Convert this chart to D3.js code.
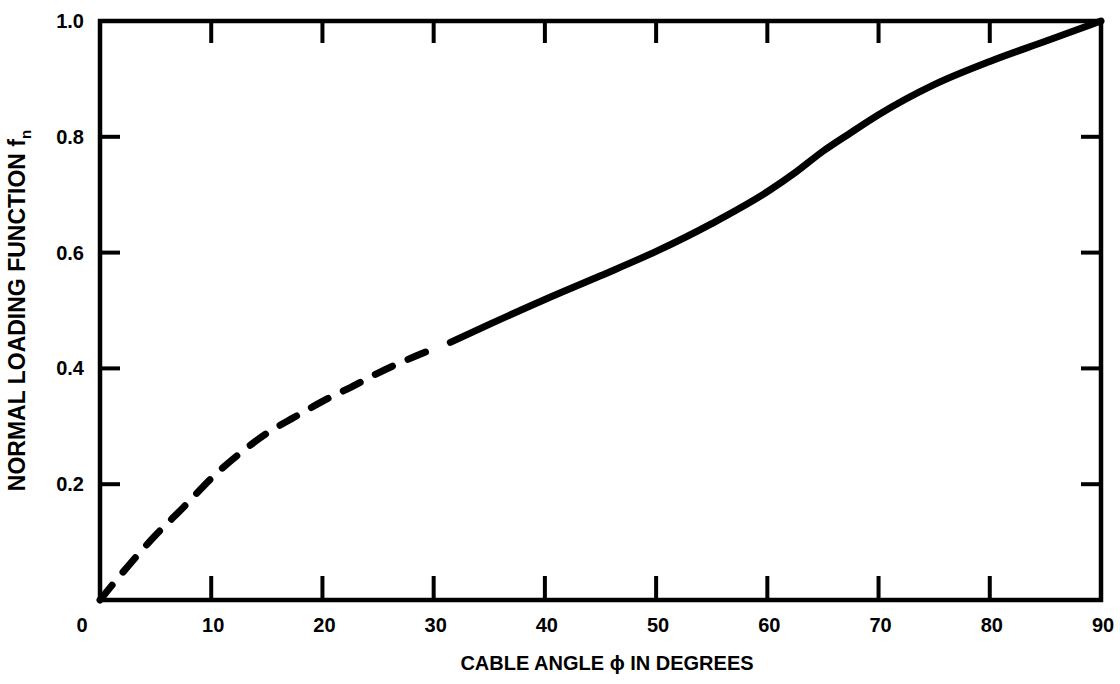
<!DOCTYPE html>
<html>
<head>
<meta charset="utf-8">
<script src="https://cdn.jsdelivr.net/npm/d3@7"></script>
<style>
  body { margin: 0; background: #fff; }
  text { font-family: "Liberation Sans", Arial, sans-serif; font-weight: bold; fill: #000; }
</style>
</head>
<body>
<div id="chart"></div>
<script>
// Cable angle (deg) vs normal loading function
const dashedAngles = [0, 2.5, 5, 7.5, 10, 12.5, 15, 17.5, 20, 22.5, 25, 27.5, 30];
const dashedValues = [0, 0.058, 0.112, 0.16, 0.21, 0.252, 0.288, 0.316, 0.343, 0.367, 0.392, 0.414, 0.434];
const solidAngles = [31.5, 35, 40, 45, 50, 55, 60, 62.5, 65, 67.5, 70, 75, 80, 85, 90];
const solidValues = [0.445, 0.476, 0.519, 0.56, 0.602, 0.65, 0.705, 0.738, 0.775, 0.807, 0.838, 0.89, 0.93, 0.965, 1.0];

const xTicks = [0, 10, 20, 30, 40, 50, 60, 70, 80, 90];
const yTicks = [0.2, 0.4, 0.6, 0.8, 1.0];

const W = 1120, H = 684;
const margin = { top: 21, right: 19, bottom: 84, left: 100 };
const width = W - margin.left - margin.right;
const height = H - margin.top - margin.bottom;

const svg = d3.select("#chart").append("svg")
    .attr("width", W)
    .attr("height", H);

const g = svg.append("g")
    .attr("transform", "translate(" + margin.left + "," + margin.top + ")");

const x = d3.scaleLinear().domain([0, 90]).range([0, width]);
const y = d3.scaleLinear().domain([0, 1]).range([height, 0]);

// inner ticks on all four sides
const tickLen = 22;
const innerX = xTicks.filter(d => d > 0 && d < 90);
const innerY = yTicks.filter(d => d < 1);

g.append("g").selectAll("line").data(innerX).enter().append("line")
    .attr("x1", d => x(d)).attr("x2", d => x(d))
    .attr("y1", height).attr("y2", height - tickLen - 2)
    .attr("stroke", "#000").attr("stroke-width", 4);
g.append("g").selectAll("line").data(innerX).enter().append("line")
    .attr("x1", d => x(d)).attr("x2", d => x(d))
    .attr("y1", 0).attr("y2", tickLen)
    .attr("stroke", "#000").attr("stroke-width", 4);
g.append("g").selectAll("line").data(innerY).enter().append("line")
    .attr("x1", 0).attr("x2", tickLen - 2)
    .attr("y1", d => y(d)).attr("y2", d => y(d))
    .attr("stroke", "#000").attr("stroke-width", 4);
g.append("g").selectAll("line").data(innerY).enter().append("line")
    .attr("x1", width).attr("x2", width - tickLen + 2)
    .attr("y1", d => y(d)).attr("y2", d => y(d))
    .attr("stroke", "#000").attr("stroke-width", 4);

// frame
g.append("rect")
    .attr("x", 0).attr("y", 0)
    .attr("width", width).attr("height", height)
    .attr("fill", "none")
    .attr("stroke", "#000")
    .attr("stroke-width", 4.5);

// x tick labels ("0" sits left of the corner)
g.append("g").selectAll("text").data(xTicks).enter().append("text")
    .attr("x", d => d === 0 ? x(d) - 18 : x(d) + 2)
    .attr("y", height + 32)
    .attr("text-anchor", "middle")
    .attr("font-size", 20)
    .text(d => d);

// y tick labels
g.append("g").selectAll("text").data(yTicks).enter().append("text")
    .attr("x", -16)
    .attr("y", d => y(d) + 7)
    .attr("text-anchor", "end")
    .attr("font-size", 20)
    .text(d => d.toFixed(1));

// axis titles
svg.append("text")
    .attr("x", 607)
    .attr("y", 670)
    .attr("text-anchor", "middle")
    .attr("font-size", 20)
    .text("CABLE ANGLE \u03D5 IN DEGREES");

const yTitle = svg.append("text")
    .attr("transform", "translate(25," + (margin.top + height / 2) + ") rotate(-90)")
    .attr("text-anchor", "middle")
    .attr("font-size", 23);
yTitle.append("tspan").text("NORMAL LOADING FUNCTION f");
yTitle.append("tspan").attr("font-size", 15).attr("dy", 6).text("n");

// curve
const line = d3.line()
    .x(d => x(d[0]))
    .y(d => y(d[1]))
    .curve(d3.curveMonotoneX);

g.append("path")
    .datum(dashedAngles.map((a, i) => [a, dashedValues[i]]))
    .attr("d", line)
    .attr("fill", "none")
    .attr("stroke", "#000")
    .attr("stroke-width", 7)
    .attr("stroke-linecap", "round")
    .attr("stroke-dasharray", "19,17");

g.append("path")
    .datum(solidAngles.map((a, i) => [a, solidValues[i]]))
    .attr("d", line)
    .attr("fill", "none")
    .attr("stroke", "#000")
    .attr("stroke-width", 7)
    .attr("stroke-linecap", "round");
</script>
</body>
</html>
